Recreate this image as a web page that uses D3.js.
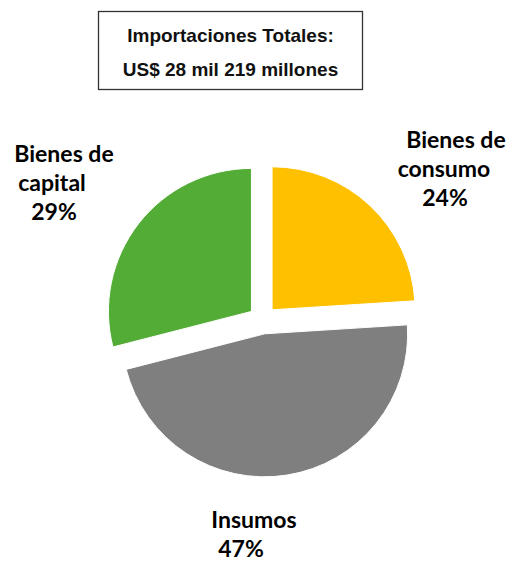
<!DOCTYPE html>
<html>
<head>
<meta charset="utf-8">
<script src="https://cdn.jsdelivr.net/npm/d3@7"></script>
<style>
  body { margin: 0; background: #fff; }
  svg { display: block; }
</style>
</head>
<body>
<script>
'use strict';

// chart values
let categories = ["Bienes de consumo", "Insumos", "Bienes de capital"];
let shares = [24, 47, 29];
let colors = ["#FFC000", "#7F7F7F", "#53AC35"];
// label lines per slice
let labelLines = [["Bienes de", "consumo", "24%"], ["Insumos", "47%"], ["Bienes de", "capital", "29%"]];
let titleLines = ["Importaciones Totales:", "US$ 28 mil 219 millones"];

// layout
let width = 516, height = 561;
let cx = 262.5, cy = 320, radius = 143, explode = 14;
// center x of each label line, and first baseline y of each block
let labelX = [[456, 444, 445], [254, 241], [64, 52, 54]];
let labelY = [148, 528, 162];
let lineHeight = 29;

let svg = d3.select("body")
  .append("svg")
  .attr("width", width)
  .attr("height", height);

// title box
svg.append("rect")
  .attr("x", 98.5)
  .attr("y", 11.5)
  .attr("width", 264)
  .attr("height", 78)
  .attr("fill", "#fff")
  .attr("stroke", "#333")
  .attr("stroke-width", 1.3);

svg.selectAll(".title")
  .data(titleLines)
  .enter()
  .append("text")
  .attr("class", "title")
  .attr("x", 230.5)
  .attr("y", (d, i) => 42 + i * 34)
  .attr("text-anchor", "middle")
  .style("font-family", "'Liberation Sans', Arial, sans-serif")
  .style("font-weight", "bold")
  .style("font-size", "19px")
  .style("fill", "#111")
  .text((d) => d);

// pie
let pie = d3.pie().sort(null).value((d) => d);
let arcs = pie(shares);

let arc = d3.arc()
  .innerRadius(0)
  .outerRadius(radius);

let g = svg.append("g")
  .attr("transform", "translate(" + cx + "," + cy + ")");

g.selectAll(".slice")
  .data(arcs)
  .enter()
  .append("path")
  .attr("class", "slice")
  .attr("transform", (d) => {
    let mid = (d.startAngle + d.endAngle) / 2;
    return "translate(" + (Math.sin(mid) * explode) + "," + (-Math.cos(mid) * explode) + ")";
  })
  .attr("d", arc)
  .attr("fill", (d, i) => colors[i])
  .attr("stroke", "#fff")
  .attr("stroke-width", 1);

// labels
labelLines.forEach((lines, i) => {
  let t = svg.append("text")
    .attr("text-anchor", "middle")
    .style("font-family", "Lato, 'Open Sans', sans-serif")
    .style("font-weight", "bold")
    .style("font-size", "23px")
    .style("fill", "#000");
  lines.forEach((line, j) => {
    t.append("tspan")
      .attr("x", labelX[i][j])
      .attr("y", labelY[i] + j * lineHeight)
      .text(line);
  });
});
</script>
</body>
</html>
